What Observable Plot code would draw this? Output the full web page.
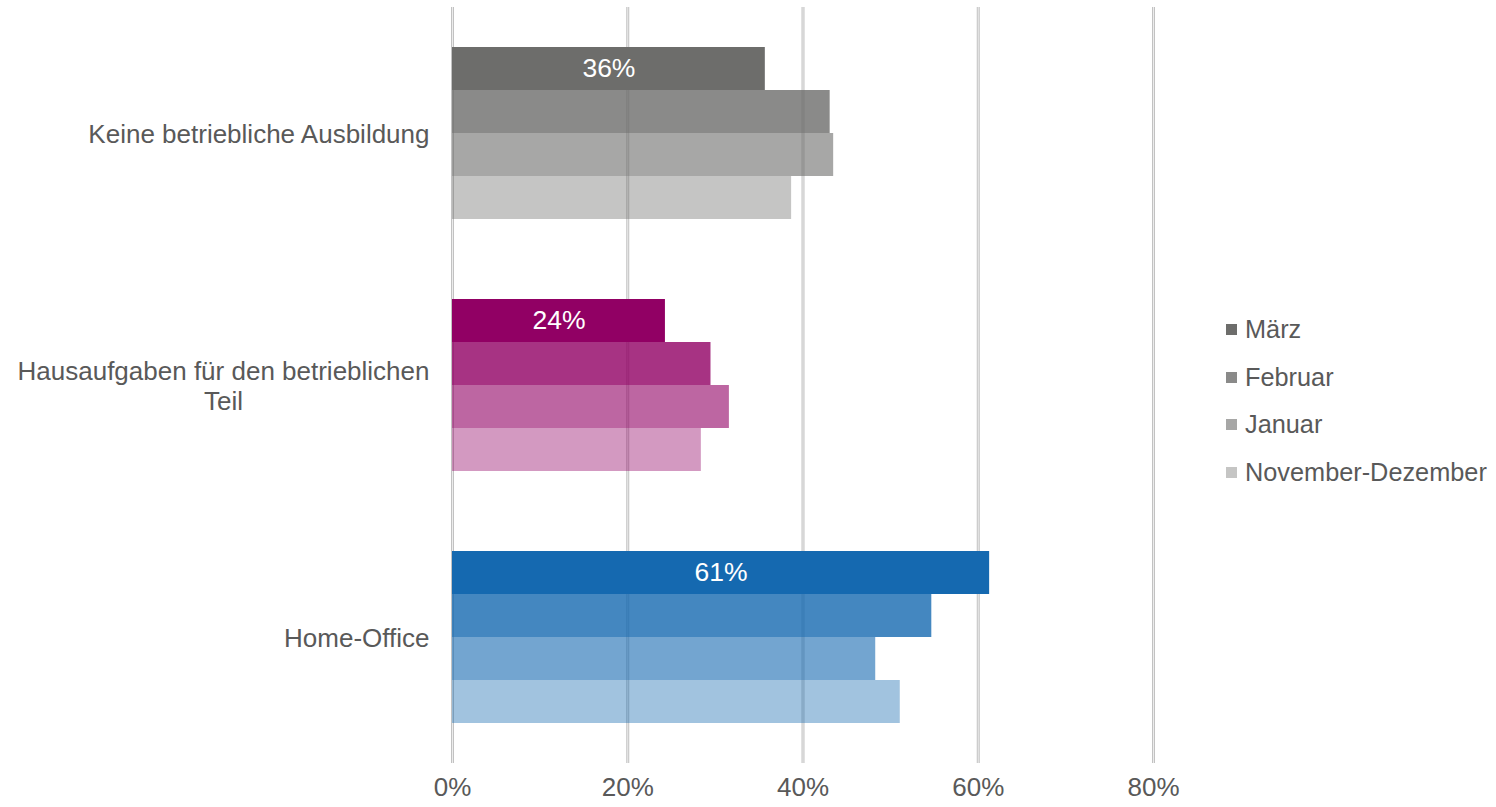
<!DOCTYPE html>
<html>
<head>
<meta charset="utf-8">
<script src="https://cdn.jsdelivr.net/npm/d3@7"></script>
<script src="https://cdn.jsdelivr.net/npm/@observablehq/plot@0.6"></script>
<style>
  html, body { margin: 0; padding: 0; background: #fff; }
  #wrap { position: relative; width: 1496px; height: 807px; font-family: "Liberation Sans", Arial, sans-serif; }
  #legend { position: absolute; left: 1226px; top: 306px; font-size: 25.3px; color: #595959; }
  #legend .item { display: flex; align-items: center; height: 47.5px; white-space: nowrap; }
  #legend .sw { width: 11px; height: 11px; margin-right: 8px; flex: none; }
</style>
</head>
<body>
<div id="wrap"><div id="legend"></div></div>
<script>
// ---- data ----
const categories = ["Keine betriebliche Ausbildung", "Hausaufgaben für den betrieblichen\nTeil", "Home-Office"];
const months = ["März", "Februar", "Januar", "November-Dezember"];
const keineAusbildung = [35.7, 43.1, 43.5, 38.7];
const hausaufgaben = [24.3, 29.5, 31.6, 28.4];
const homeOffice = [61.3, 54.7, 48.3, 51.1];
const barLabels = ["36%", "24%", "61%"];
const xTicks = [0, 20, 40, 60, 80];
const baseColors = ["#6d6d6b", "#910064", "#1569b0"];
const monthOpacity = [1, 0.8, 0.6, 0.4];

const seriesByCategory = [keineAusbildung, hausaufgaben, homeOffice];
const rows = [];
categories.forEach((c, i) => {
  seriesByCategory[i].forEach((v, j) => {
    rows.push({category: c, month: months[j], value: v, color: baseColors[i], opacity: monthOpacity[j]});
  });
});
const labelRows = categories.map((c, i) => ({category: c, month: months[0], value: seriesByCategory[i][0], label: barLabels[i]}));

const textColor = "#595959";
const fontSize = 26;

const chart = Plot.plot({
  width: 1496,
  height: 807,
  marginLeft: 452,
  marginRight: 343,
  marginTop: 7,
  marginBottom: 44,
  style: {fontFamily: '"Liberation Sans", Arial, sans-serif', background: "transparent"},
  x: {domain: [0, 80], axis: null, label: null},
  y: {domain: months, axis: null, label: null, paddingInner: 0, paddingOuter: 0.91},
  fy: {domain: categories, padding: 0, axis: null, label: null},
  color: {type: "identity"},
  opacity: {type: "identity"},
  marks: [
    Plot.ruleX(xTicks, {x: d => d, stroke: "#c2c2c2", strokeWidth: 3}),
    Plot.ruleX(xTicks, {x: d => d, stroke: "#ececec", strokeWidth: 1}),
    Plot.barX(rows, {x: "value", y: "month", fy: "category", fill: "color", fillOpacity: "opacity"}),
    Plot.text(labelRows, {x: d => d.value / 2, y: "month", fy: "category", text: "label", fill: "white", fontSize: 26.5}),
    Plot.axisX(xTicks, {tickSize: 0, tickPadding: 14, tickFormat: d => d + "%", fontSize: fontSize, fill: textColor, label: null}),
    Plot.axisFy({anchor: "left", tickSize: 0, tickPadding: 23, fontSize: fontSize, lineHeight: 1.15, fill: textColor, label: null})
  ]
});

const wrap = document.getElementById("wrap");
wrap.insertBefore(chart, wrap.firstChild);

// center multi-line category labels (as in the original)
chart.querySelectorAll("text").forEach(t => {
  const spans = t.querySelectorAll("tspan");
  if (spans.length > 1) {
    const w = spans[0].getComputedTextLength();
    t.setAttribute("text-anchor", "middle");
    spans.forEach(s => s.setAttribute("x", -w / 2));
  }
});

// legend
const legend = document.getElementById("legend");
months.forEach((m, j) => {
  const item = document.createElement("div");
  item.className = "item";
  const sw = document.createElement("div");
  sw.className = "sw";
  sw.style.background = baseColors[0];
  sw.style.opacity = monthOpacity[j];
  const lab = document.createElement("span");
  lab.textContent = m;
  item.appendChild(sw);
  item.appendChild(lab);
  legend.appendChild(item);
});
</script>
</body>
</html>
